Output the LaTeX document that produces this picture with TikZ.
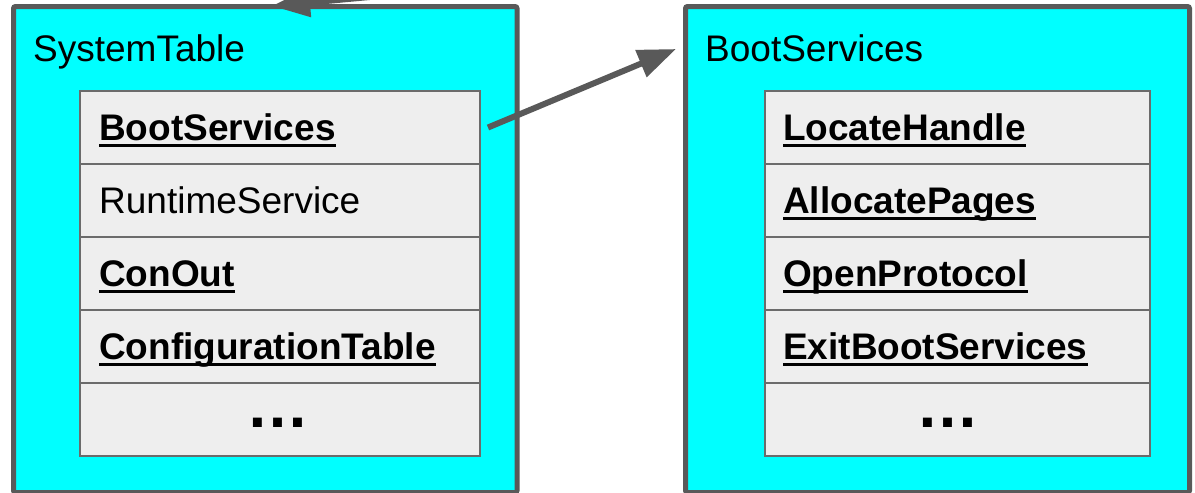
\documentclass[tikz,border=0pt]{standalone}
\usepackage{fontspec}
\setmainfont{Liberation Sans}
\usetikzlibrary{arrows.meta,calc}
\definecolor{boxcyan}{HTML}{00FFFF}
\definecolor{frame}{HTML}{595959}
\definecolor{cellfill}{HTML}{EEEEEE}
\definecolor{cellline}{HTML}{6B6B6B}
% bold field name with a heavy underline
\newcommand\ulfield[1]{\setbox0\hbox{\bfseries#1}\rlap{\rule[-6.2pt]{\wd0}{3.3pt}}\box0}

\begin{document}
\begin{tikzpicture}[x=1pt,y=-1pt,
  panel/.style={draw=frame, line width=5pt, fill=boxcyan, rounded corners=2pt,
    anchor=north west, outer sep=0pt, inner sep=0pt, minimum height=486pt},
  cell/.style={draw=cellline, line width=2pt, fill=cellfill, anchor=north west,
    minimum height=73pt, outer sep=0pt, inner sep=0pt},
  label/.style={font=\fontsize{37}{44}\selectfont, anchor=base west, inner sep=0pt, text=black},
  dots/.style={font=\fontsize{63}{70}\selectfont\bfseries, anchor=base, inner sep=0pt},
  ptr/.style={draw=frame, line width=6pt, -{Triangle[length=38pt,width=28pt]}}
]
\useasboundingbox (0,0) rectangle (1195,493);
\clip (0,0) rectangle (1195,493);

% outer structures
\node[panel, minimum width=503.5pt] (stpanel) at (13.5,6.5) {};
\node[panel, minimum width=504pt] (bspanel) at (685.5,6.5) {};

\node[label] (sttitle) at ($(stpanel.north west)+(19.5,54.5)$) {SystemTable};
\node[label] (bstitle) at ($(bspanel.north west)+(19.5,54.5)$) {BootServices};

% SystemTable fields
\foreach \i/\y in {1/91,2/164,3/237,4/310,5/383}{
  \node[cell, minimum width=400pt] (st\i) at (80,\y) {};
}
\node[label] (stl1) at ($(st1.west)+(19,13.2)$) {\ulfield{BootServices}};
\node[label] (stl2) at ($(st2.west)+(19,13.2)$) {RuntimeService};
\node[label] (stl3) at ($(st3.west)+(19,13.2)$) {\ulfield{ConOut}};
\node[label] (stl4) at ($(st4.west)+(19,13.2)$) {\ulfield{ConfigurationTable}};
\node[dots] (stl5) at ($(st5.center)+(-2.5,7.5)$) {…};

% BootServices fields
\foreach \i/\y in {1/91,2/164,3/237,4/310,5/383}{
  \node[cell, minimum width=385pt] (bs\i) at (765,\y) {};
}
\node[label] (bsl1) at ($(bs1.west)+(18,13.2)$) {\ulfield{LocateHandle}};
\node[label] (bsl2) at ($(bs2.west)+(18,13.2)$) {\ulfield{AllocatePages}};
\node[label] (bsl3) at ($(bs3.west)+(18,13.2)$) {\ulfield{OpenProtocol}};
\node[label] (bsl4) at ($(bs4.west)+(18,13.2)$) {\ulfield{ExitBootServices}};
\node[dots] (bsl5) at ($(bs5.center)+(-10,7.5)$) {…};

% pointers
\coordinate (bsfrom) at ($(st1.east)+(8,0)$);
\coordinate (bsto) at ($(bspanel.north west)+(-9.5,42.5)$);
\draw[ptr] (bsfrom) -- (bsto);

\coordinate (stfrom) at (500,-15);
\coordinate (stto) at ($(stpanel.north west)+(258.5,-0.5)$);
\draw[ptr] (stfrom) -- (stto);
\end{tikzpicture}
\end{document}
